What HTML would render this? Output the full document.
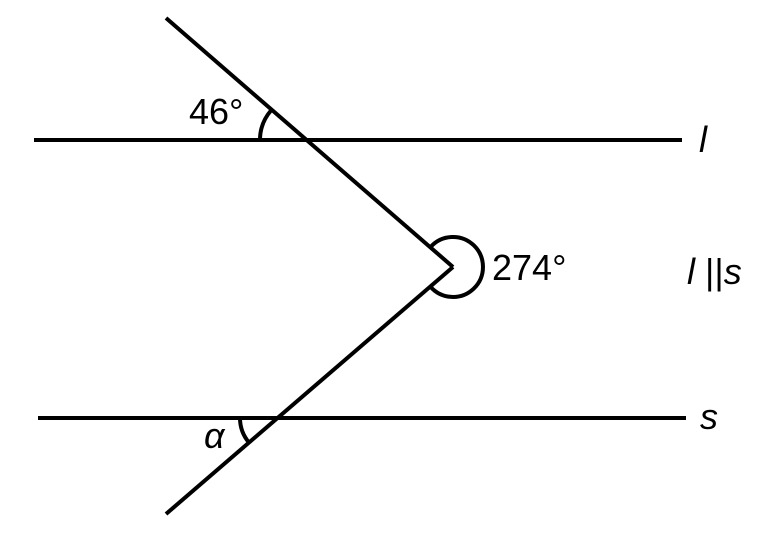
<!DOCTYPE html>
<html><head><meta charset="utf-8"><style>
html,body{margin:0;padding:0;background:#fff;}
svg{display:block;}
text{font-family:"Liberation Sans",Arial,sans-serif;fill:#000;}
</style></head><body>
<svg width="764" height="536" viewBox="0 0 764 536" xmlns="http://www.w3.org/2000/svg">
<g stroke="#000" stroke-width="4" fill="none" stroke-linecap="butt">
<line x1="34" y1="140" x2="682" y2="140"/>
<line x1="38" y1="418" x2="686" y2="418"/>
<line x1="166" y1="18" x2="453" y2="267"/>
<line x1="453" y1="267" x2="166" y2="514"/>
<path d="M430.3 247.3 A30 30 0 1 1 430.3 286.6"/>
<path d="M260 140 A45 45 0 0 1 271 110.5"/>
<path d="M240 418 A38 38 0 0 0 249.2 442.8"/>
</g>
<text x="189" y="124" font-size="36">46°</text>
<text x="492" y="280" font-size="36">274°</text>
<text x="699" y="152" font-size="36" font-style="italic">l</text>
<text x="687" y="284" font-size="36"><tspan font-style="italic">l</tspan> ||<tspan font-style="italic">s</tspan></text>
<text x="700" y="429" font-size="36" font-style="italic">s</text>
<text x="204" y="448" font-size="36" font-style="italic">α</text>
</svg>
</body></html>
